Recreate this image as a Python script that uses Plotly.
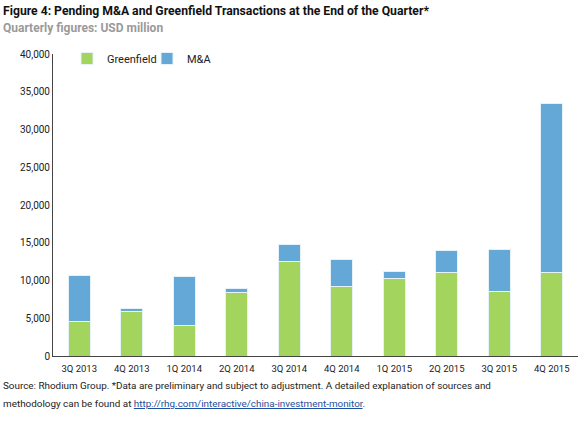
import plotly.graph_objects as go

quarters = ["3Q 2013", "4Q 2013", "1Q 2014", "2Q 2014", "3Q 2014",
            "4Q 2014", "1Q 2015", "2Q 2015", "3Q 2015", "4Q 2015"]
greenfield = [4600, 5900, 4100, 8450, 12550, 9200, 10300, 11000, 8500, 11000]
totals = [10600, 6350, 10500, 9000, 14750, 12750, 11150, 13950, 14150, 33500]
mna = [t - g for t, g in zip(totals, greenfield)]
y_ticks = [0, 5000, 10000, 15000, 20000, 25000, 30000, 35000, 40000]

FONT = "Roboto, Liberation Sans, sans-serif"
W, H = 588, 423
L, R, T, B = 53, 10, 54, 67
pw, ph = W - L - R, H - T - B

def px(x):
    return (x - L) / pw

def py(y):
    return (H - B - y) / ph

fig = go.Figure()
fig.add_bar(x=quarters, y=greenfield, name="Greenfield", marker_color="#a2d45e",
            marker_line=dict(color="#e6f2f8", width=1), width=0.42)
fig.add_bar(x=quarters, y=mna, name="M&A", marker_color="#63a8d6",
            marker_line=dict(color="#e6f2f8", width=1), width=0.42)

fig.update_layout(
    barmode="stack",
    width=W, height=H,
    margin=dict(l=L, r=R, t=T, b=B),
    paper_bgcolor="white", plot_bgcolor="white",
    font=dict(family=FONT, color="#222222", size=10),
    showlegend=True,
    legend=dict(orientation="h", x=px(67), y=py(44), xanchor="left", yanchor="top",
                font=dict(size=11, color="#222222"), itemwidth=30, traceorder="normal",
                entrywidth=35, entrywidthmode="pixels",
                bgcolor="rgba(0,0,0,0)"),
    xaxis=dict(showline=True, linecolor="#444444", linewidth=1, ticks="", automargin=False,
               tickfont=dict(size=9.5), showgrid=False, ticklabelstandoff=4),
    yaxis=dict(range=[0, 40000], tickvals=y_ticks, tickformat=",", showline=True,
               linecolor="#444444", linewidth=1, ticks="", showgrid=False, zeroline=False,
               automargin=False, tickfont=dict(size=10)),
)

fig.add_annotation(text="<b>Figure 4: Pending M&A and Greenfield Transactions at the End of the Quarter*</b>",
                   xref="paper", yref="paper", x=px(1), y=py(11), xanchor="left", yanchor="middle",
                   showarrow=False, font=dict(size=12.2, color="#111111", family=FONT))
fig.add_annotation(text="<b>Quarterly figures: USD million</b>",
                   xref="paper", yref="paper", x=px(1), y=py(28), xanchor="left", yanchor="middle",
                   showarrow=False, font=dict(size=12, color="#9a9a9a", family=FONT))
fig.add_annotation(text="Source: Rhodium Group. *Data are preliminary and subject to adjustment. A detailed explanation of sources and",
                   xref="paper", yref="paper", x=px(1), y=py(385), xanchor="left", yanchor="middle",
                   showarrow=False, font=dict(size=9.9, color="#222222", family=FONT))
fig.add_annotation(text="methodology can be found at <a href='http://rhg.com/interactive/china-investment-monitor' style='color:#1a4fa0'><u>http://rhg.com/interactive/china-investment-monitor</u></a>.",
                   xref="paper", yref="paper", x=px(1), y=py(403), xanchor="left", yanchor="middle",
                   showarrow=False, font=dict(size=9.9, color="#222222", family=FONT))

fig.write_html("out.html", config={"displayModeBar": False},
               post_script="document.body.style.margin='0px';")
